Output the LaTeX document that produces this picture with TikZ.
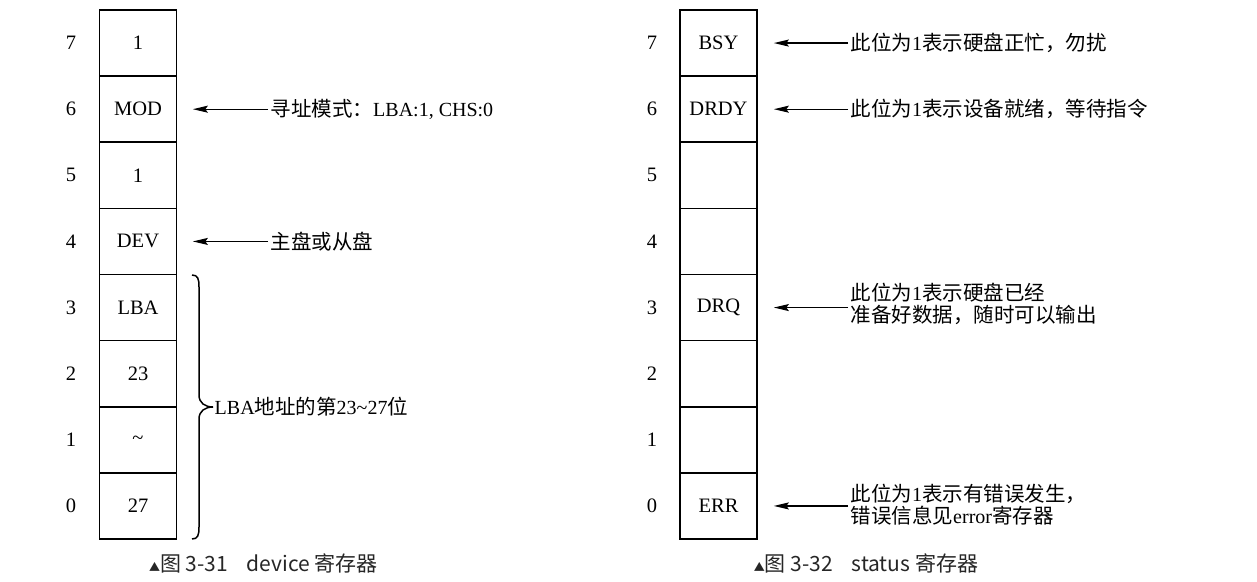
\documentclass[tikz,border=0pt]{standalone}
\usepackage{fontspec}
\setmainfont{Liberation Serif}
\newfontfamily\cjk{Noto Sans CJK SC}
\newfontfamily\capfont{Noto Sans CJK SC}
\newcommand\latn[1]{{\rmfamily\fontsize{20}{22}\selectfont #1}}
\usetikzlibrary{arrows.meta}
\begin{document}
\begin{tikzpicture}[x=1pt,y=-1pt,
  cell/.style={draw, line width=1.7pt, minimum width=77pt, minimum height=66.125pt,
    inner sep=0pt, font=\fontsize{20.5}{24}\selectfont},
  bitnum/.style={font=\fontsize{20.5}{24}\selectfont, inner sep=0pt},
  lbl/.style={anchor=west, inner xsep=2.5pt, inner ysep=0pt, font=\cjk\fontsize{20.5}{22}\selectfont, align=left},
  ptr/.style={-{Stealth[length=15pt,width=7pt,inset=2.5pt]}, line width=1.2pt},
  bracepath/.style={line width=1.5pt},
  captext/.style={font=\capfont\fontsize{21}{24}\selectfont, inner sep=0pt, text=black!85}]
\useasboundingbox (0,0) rectangle (1257,581);
% left register (device)
\foreach \t [count=\i from 0] in {1,MOD,1,DEV,LBA,23,\textasciitilde,27} {
  \pgfmathtruncatemacro\b{7-\i}
  \node[cell] (L\b) at (138, 43.06+\i*66.125) {\t};
  \node[bitnum] (nL\b) at (71, 43.06+\i*66.125) {\b};
}
% right register (status)
\foreach \t [count=\i from 0] in {BSY,DRDY,{},{},DRQ,{},{},ERR} {
  \pgfmathtruncatemacro\b{7-\i}
  \node[cell] (R\b) at (718.5, 43.06+\i*66.125) {\t};
  \node[bitnum] (nR\b) at (652, 43.06+\i*66.125) {\b};
}
% left labels
\node[lbl] (mod) at (268, 109.2) {寻址模式：\latn{LBA:1, CHS:0}};
\node[lbl] (dev) at (268, 241.4) {主盘或从盘};
\draw[ptr] (L6.east -| mod.west) -- ([xshift=15.5pt]L6.east);
\draw[ptr] (L4.east -| dev.west) -- ([xshift=15.5pt]L4.east);
% brace
\coordinate (bt) at (192,275);
\coordinate (bb) at (192,539);
\coordinate (btip) at (213,407);
\draw[bracepath] (bt) .. controls (198,275) and (199,279) .. (199,287) -- (199,395)
  .. controls (199,403) and (205,407) .. (btip)
  .. controls (205,407) and (199,411) .. (199,419) -- (199,527)
  .. controls (199,535) and (198,539) .. (bb);
\node[lbl, inner xsep=1.5pt] (lba) at (btip) {\latn{LBA}地址的第\latn{23\textasciitilde27}位};
% right labels
\node[lbl] (bsy) at (848, 43.06) {此位为\latn{1}表示硬盘正忙，勿扰};
\node[lbl] (drdy) at (848, 109.2) {此位为\latn{1}表示设备就绪，等待指令};
\node[lbl] (drq) at (848, 304) {此位为\latn{1}表示硬盘已经\\准备好数据，随时可以输出};
\node[lbl] (err) at (848, 505) {此位为\latn{1}表示有错误发生，\\错误信息见\latn{error}寄存器};
\draw[ptr] (R7.east -| bsy.west) -- ([xshift=16pt]R7.east);
\draw[ptr] (R6.east -| drdy.west) -- ([xshift=16pt]R6.east);
\draw[ptr] (R3.east -| drq.west) -- ([xshift=16pt]R3.east);
\draw[ptr] (R0.east -| err.west) -- ([xshift=16pt]R0.east);
% captions
\node[captext] (capL) at (263.5, 563) {{\fontsize{11}{12}\selectfont ▲}图 3-31\hspace{0.9em}device 寄存器};
\node[captext] (capR) at (866, 563) {{\fontsize{11}{12}\selectfont ▲}图 3-32\hspace{0.9em}status 寄存器};
\end{tikzpicture}
\end{document}
